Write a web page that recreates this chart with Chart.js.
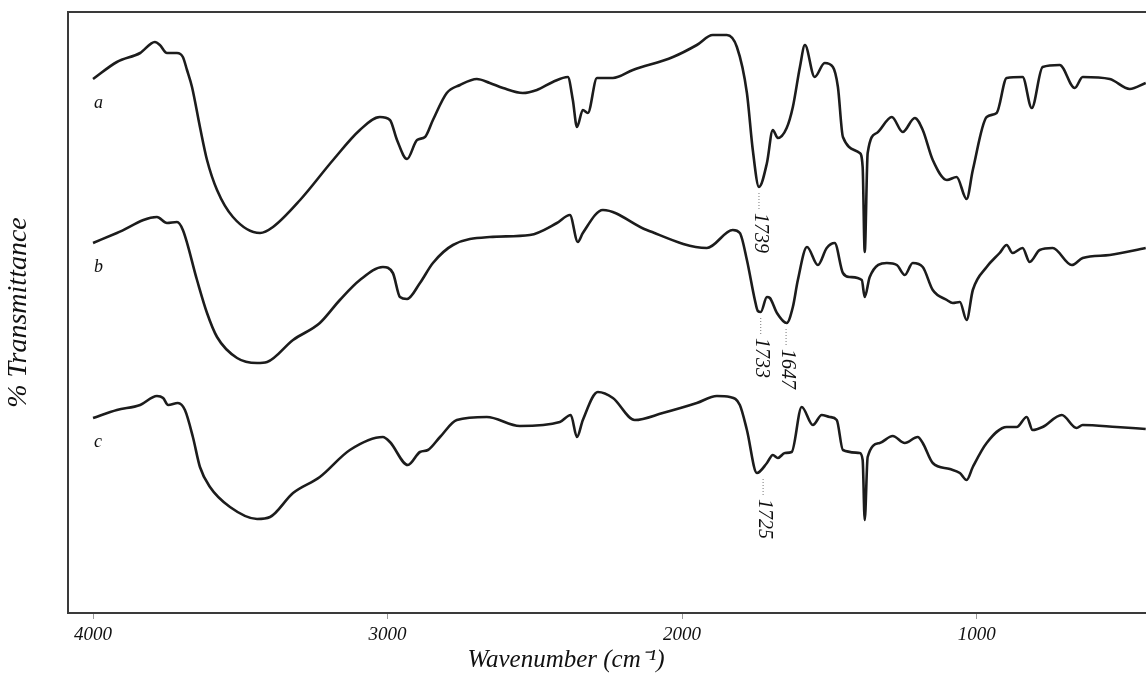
<!DOCTYPE html>
<html>
<head>
<meta charset="utf-8">
<script src="https://cdn.jsdelivr.net/npm/chart.js@4/dist/chart.umd.min.js"></script>
<style>
  html, body { margin: 0; padding: 0; background: #fff; overflow: hidden; }
  canvas { display: block; }
</style>
</head>
<body>
<canvas id="ftirChart" width="1146" height="679"></canvas>
<script>
// spectra (wavenumber in cm-1, transmittance in arbitrary offset units)
const seriesNames = ['a', 'b', 'c'];

const waveA = [4000, 3919, 3840, 3790, 3773, 3749, 3715, 3695, 3681, 3664, 3637, 3613, 3579, 3525, 3433, 3389, 3297, 3185, 3094, 3026,
  2992, 2968, 2934, 2900, 2873, 2846, 2799, 2754, 2697, 2653, 2608, 2541, 2493, 2439, 2388, 2371, 2357, 2337, 2320, 2289,
  2235, 2167, 2031, 1950, 1896, 1848, 1814, 1780, 1760, 1739, 1712, 1692, 1675, 1645, 1624, 1600, 1583, 1550, 1516, 1488,
  1471, 1454, 1397, 1387, 1380, 1370, 1339, 1288, 1251, 1210, 1183, 1149, 1101, 1068, 1034, 1013, 966, 932, 898, 844,
  813, 776, 718, 667, 640, 548, 480, 426];
const transA = [534, 551, 560, 571, 568, 560, 560, 556, 543, 526, 486, 453, 423, 396, 380, 386, 413, 453, 483, 496,
  493, 473, 454, 473, 476, 493, 520, 528, 534, 530, 525, 520, 523, 531, 536, 513, 486, 503, 500, 535,
  535, 543, 556, 568, 578, 578, 566, 520, 463, 426, 450, 483, 475, 485, 506, 546, 568, 536, 550, 546,
  526, 476, 460, 446, 361, 460, 480, 496, 481, 495, 483, 453, 433, 436, 414, 443, 496, 500, 535, 536,
  505, 546, 548, 525, 536, 534, 524, 530];

const waveB = [4000, 3919, 3783, 3749, 3715, 3695, 3647, 3613, 3579, 3511, 3443, 3409, 3321, 3230, 3162, 3094, 3016, 2982, 2958, 2934,
  2890, 2846, 2778, 2653, 2517, 2425, 2381, 2354, 2337, 2269, 2120, 1916, 1828, 1804, 1780, 1753, 1743, 1733, 1712, 1702,
  1678, 1645, 1624, 1607, 1576, 1539, 1509, 1482, 1454, 1431, 1390, 1380, 1363, 1305, 1271, 1244, 1217, 1183, 1149, 1101,
  1081, 1057, 1034, 1013, 966, 922, 898, 878, 844, 820, 786, 742, 677, 640, 548, 426];
const transB = [370, 380, 396, 390, 391, 383, 333, 300, 276, 255, 250, 251, 273, 290, 313, 333, 346, 340, 316, 314,
  330, 350, 368, 376, 378, 390, 398, 371, 380, 403, 383, 365, 383, 380, 353, 313, 302, 301, 316, 315,
  300, 290, 306, 333, 366, 348, 365, 370, 340, 336, 333, 316, 336, 350, 348, 338, 350, 346, 323, 313,
  310, 311, 293, 323, 346, 360, 368, 360, 365, 351, 363, 365, 348, 355, 358, 365];

const waveC = [4000, 3919, 3840, 3783, 3762, 3745, 3712, 3688, 3661, 3637, 3603, 3535, 3443, 3399, 3321, 3230, 3128, 3016, 2992, 2931,
  2890, 2863, 2822, 2765, 2663, 2551, 2415, 2378, 2357, 2337, 2286, 2235, 2161, 2066, 1950, 1882, 1838, 1804, 1780, 1746,
  1712, 1692, 1675, 1651, 1628, 1594, 1556, 1526, 1499, 1475, 1454, 1397, 1387, 1380, 1370, 1329, 1285, 1244, 1200, 1183,
  1149, 1091, 1057, 1034, 1013, 966, 898, 864, 830, 810, 776, 711, 661, 640, 525, 426];
const transC = [195, 203, 208, 217, 215, 208, 210, 203, 176, 146, 126, 106, 94, 96, 120, 136, 163, 176, 171, 148,
  161, 163, 176, 193, 196, 187, 191, 198, 176, 193, 221, 215, 193, 200, 210, 217, 216, 208, 183, 140,
  150, 158, 155, 160, 161, 206, 188, 198, 196, 193, 163, 160, 153, 93, 156, 170, 177, 170, 176, 170,
  150, 144, 140, 133, 146, 170, 186, 186, 196, 183, 186, 198, 185, 188, 186, 184];

// marked band positions and the curve each belongs to
const peakLabels = [1739, 1733, 1647, 1725];
const peakSeries = [0, 1, 1, 2];

const xTickValues = [4000, 3000, 2000, 1000];

const serif = '"Liberation Serif", "Times New Roman", serif';

function toPoints(xs, ys) {
  return xs.map((x, i) => ({ x: x, y: ys[i] }));
}

// frame top, curve letters, band marks, x title
const decorPlugin = {
  id: 'decor',
  afterDatasetsDraw(chart) {
    const { ctx, chartArea, scales } = chart;
    ctx.save();

    ctx.strokeStyle = '#3a3a3a';
    ctx.lineWidth = 2;
    ctx.beginPath();
    ctx.moveTo(chartArea.left, chartArea.top);
    ctx.lineTo(chartArea.right, chartArea.top);
    ctx.stroke();

    ctx.fillStyle = '#111';
    ctx.font = 'italic 18px ' + serif;
    ctx.textAlign = 'left';
    ctx.textBaseline = 'middle';
    seriesNames.forEach((name, i) => {
      const p = chart.getDatasetMeta(i).data[0];
      ctx.fillText(name, p.x + 1, p.y + 24);
    });

    const allWaves = [waveA, waveB, waveC];
    const allTrans = [transA, transB, transC];
    peakLabels.forEach((wn, k) => {
      const s = peakSeries[k];
      let low = Infinity;
      allWaves[s].forEach((w, i) => {
        if (Math.abs(w - wn) <= 25) low = Math.min(low, allTrans[s][i]);
      });
      const px = scales.x.getPixelForValue(wn);
      const py = scales.y.getPixelForValue(low);
      ctx.strokeStyle = '#777';
      ctx.lineWidth = 1;
      ctx.setLineDash([1, 2]);
      ctx.beginPath();
      ctx.moveTo(px, py + 6);
      ctx.lineTo(px, py + 24);
      ctx.stroke();
      ctx.setLineDash([]);
      ctx.save();
      ctx.translate(px + 1, py + 26);
      ctx.rotate(Math.PI / 2);
      ctx.font = 'italic 20px ' + serif;
      ctx.fillStyle = '#111';
      ctx.textAlign = 'left';
      ctx.textBaseline = 'middle';
      ctx.fillText(String(wn), 0, 0);
      ctx.restore();
    });

    ctx.font = 'italic 25px ' + serif;
    ctx.fillStyle = '#111';
    ctx.textAlign = 'center';
    ctx.textBaseline = 'middle';
    ctx.fillText('Wavenumber (cm\u207B\u00B9)', 566, 660);

    ctx.restore();
  }
};

const lineStyle = {
  borderColor: '#1c1c1c',
  borderWidth: 2.6,
  pointRadius: 0,
  cubicInterpolationMode: 'monotone',
  fill: false
};

const ctx = document.getElementById('ftirChart').getContext('2d');
new Chart(ctx, {
  type: 'line',
  data: {
    datasets: [
      Object.assign({ label: seriesNames[0], data: toPoints(waveA, transA) }, lineStyle),
      Object.assign({ label: seriesNames[1], data: toPoints(waveB, transB) }, lineStyle),
      Object.assign({ label: seriesNames[2], data: toPoints(waveC, transC) }, lineStyle)
    ]
  },
  options: {
    responsive: false,
    animation: false,
    devicePixelRatio: 1,
    layout: { padding: { top: 12, left: 0, right: 0, bottom: 0 } },
    plugins: {
      legend: { display: false },
      tooltip: { enabled: false }
    },
    scales: {
      x: {
        type: 'linear',
        reverse: true,
        min: 425,
        max: 4085,
        afterBuildTicks: scale => { scale.ticks = xTickValues.map(v => ({ value: v })); },
        afterFit: scale => { scale.height = 66; },
        grid: { display: true, drawOnChartArea: false, drawTicks: true, tickLength: 6, color: '#999' },
        border: { display: true, color: '#3a3a3a', width: 2 },
        ticks: {
          color: '#111',
          padding: 5,
          maxRotation: 0,
          callback: value => String(value),
          font: { family: serif, style: 'italic', size: 19 }
        }
      },
      y: {
        min: 0,
        max: 601,
        afterFit: scale => { scale.width = 68; },
        grid: { display: false },
        border: { display: true, color: '#3a3a3a', width: 2 },
        ticks: { display: false },
        title: {
          display: true,
          text: '% Transmittance',
          color: '#111',
          padding: { top: 2, bottom: 0 },
          font: { family: serif, style: 'italic', size: 28 }
        }
      }
    }
  },
  plugins: [decorPlugin]
});
</script>
</body>
</html>
